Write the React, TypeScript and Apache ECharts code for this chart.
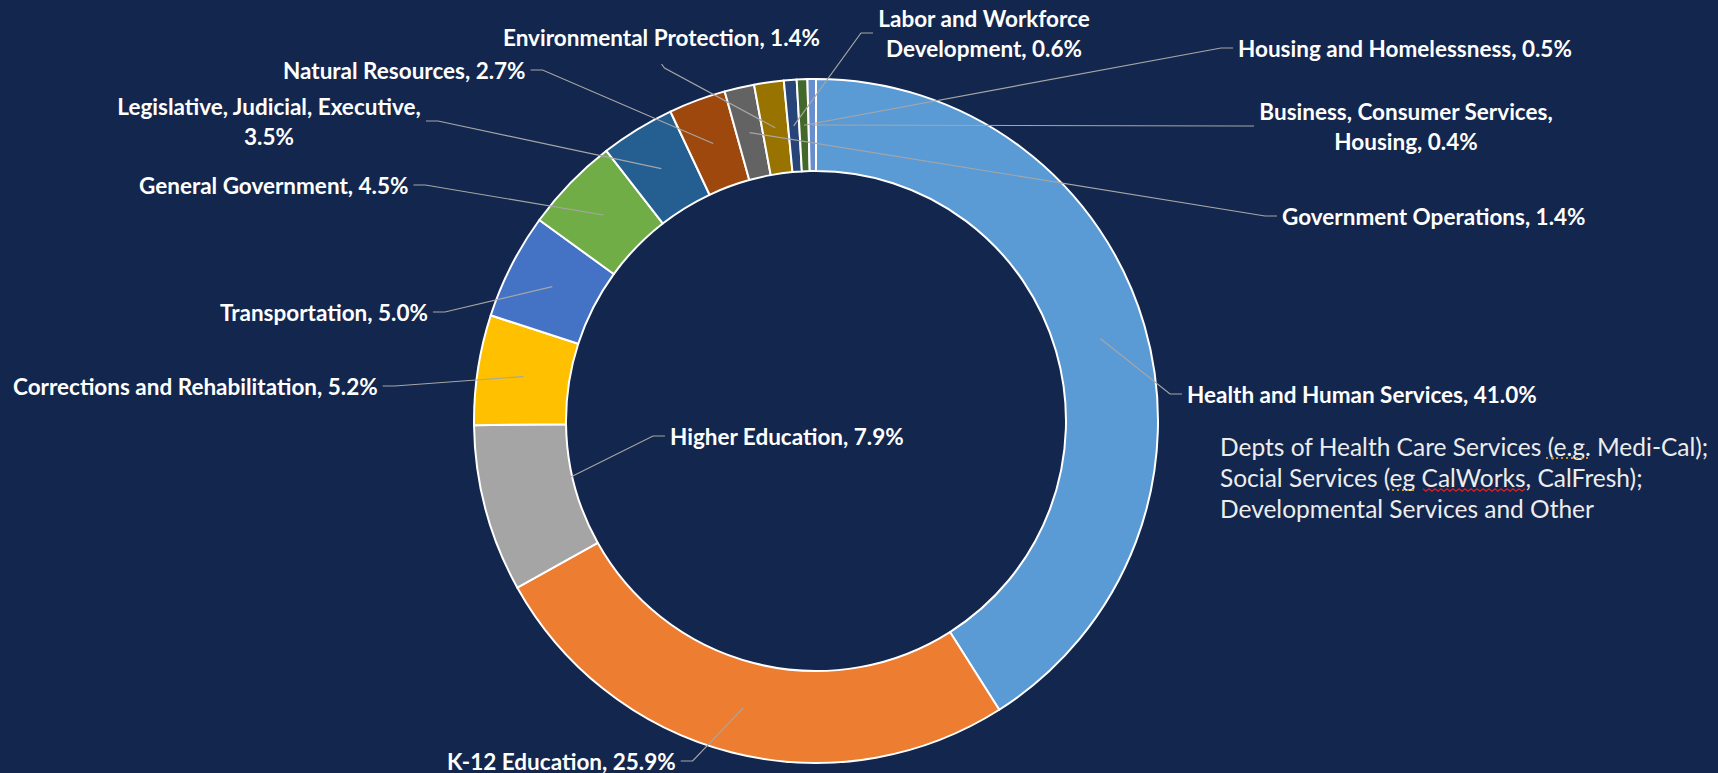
import React, { useEffect, useRef } from "react";
import * as echarts from "echarts";

// ---- Data ----
const categories = [
  "Health and Human Services",
  "K-12 Education",
  "Higher Education",
  "Corrections and Rehabilitation",
  "Transportation",
  "General Government",
  "Legislative, Judicial, Executive",
  "Natural Resources",
  "Government Operations",
  "Environmental Protection",
  "Labor and Workforce Development",
  "Housing and Homelessness",
  "Business, Consumer Services, Housing",
];
const shares = [41.0, 25.9, 7.9, 5.2, 5.0, 4.5, 3.5, 2.7, 1.4, 1.4, 0.6, 0.5, 0.4];
const sliceColors = [
  "#5B9BD5", "#ED7D31", "#A5A5A5", "#FFC000", "#4472C4", "#70AD47",
  "#255E91", "#9E480E", "#636363", "#997300", "#264478", "#43682B", "#698ED0",
];
const noteLines = [
  "Depts of Health Care Services (e.g. Medi-Cal);",
  "Social Services (eg CalWorks, CalFresh);",
  "Developmental Services and Other",
];

// where a label wraps onto a second line (text after which the break goes)
const wrapAfter: Record<string, string> = {
  "Legislative, Judicial, Executive": "Executive,",
  "Labor and Workforce Development": "Workforce",
  "Business, Consumer Services, Housing": "Services,",
};

// ---- Layout (label placement, styling) ----
// side: which side of the label the leader line attaches to
const labelPos: { x: number; y: number; align: string; side: string }[] = [
  { x: 1187, y: 394, align: "left", side: "left" },
  { x: 447, y: 761, align: "left", side: "right" },
  { x: 670, y: 436, align: "left", side: "left" },
  { x: 13, y: 386, align: "left", side: "right" },
  { x: 220, y: 312, align: "left", side: "right" },
  { x: 139, y: 185, align: "left", side: "right" },
  { x: 269, y: 121, align: "center", side: "right" },
  { x: 283, y: 70, align: "left", side: "right" },
  { x: 1282, y: 216, align: "left", side: "left" },
  { x: 503, y: 37, align: "left", side: "bottom" },
  { x: 984, y: 33, align: "center", side: "left" },
  { x: 1238, y: 48, align: "left", side: "left" },
  { x: 1406, y: 126, align: "center", side: "left" },
];

const BG = "#13264D";
const FONT = "Lato, 'Noto Sans', sans-serif";
const CENTER = [816, 421];
const RADIUS = [250, 342];

function zigzag(x0: number, x1: number, y: number) {
  const pts: number[][] = [];
  let up = true;
  for (let x = x0; x <= x1; x += 3) {
    pts.push([x, y + (up ? -1.2 : 1.2)]);
    up = !up;
  }
  return pts;
}

export default function App() {
  const ref = useRef<HTMLDivElement>(null);
  useEffect(() => {
    document.body.style.margin = "0";
    if (!ref.current) return;
    const chart = echarts.init(ref.current, undefined, { renderer: "svg" });

    const anchorOf = (seriesIndex: number, idx: number) => {
      const layout = (chart as any)
        .getModel()
        .getSeriesByIndex(seriesIndex)
        .getData()
        .getItemLayout(idx);
      const mid = (layout.startAngle + layout.endAngle) / 2;
      const rm = (layout.r + layout.r0) / 2;
      return [layout.cx + rm * Math.cos(mid), layout.cy + rm * Math.sin(mid)];
    };

    const pieData = categories.map((name, i) => ({
      name,
      value: shares[i],
      itemStyle: { color: sliceColors[i] },
    }));

    chart.setOption({
      animation: false,
      backgroundColor: BG,
      graphic: [
        {
          type: "text",
          left: 1220,
          top: 431,
          style: {
            text: noteLines.join("\n"),
            fill: "#EDEDED",
            font: `24.5px ${FONT}`,
            lineHeight: 31,
          },
        },
        {
          type: "line",
          shape: { x1: 1546, y1: 458, x2: 1588, y2: 458 },
          style: { stroke: "#D4962C", lineWidth: 2, lineDash: [2, 3] },
        },
        {
          type: "line",
          shape: { x1: 1392, y1: 490, x2: 1417, y2: 490 },
          style: { stroke: "#D4962C", lineWidth: 2, lineDash: [2, 3] },
        },
        {
          type: "polyline",
          shape: { points: zigzag(1423, 1527, 490) },
          style: { stroke: "#E02020", lineWidth: 1.2, fill: "none" },
        },
      ],
      series: [
        {
          type: "pie",
          z: 2,
          center: CENTER,
          radius: RADIUS,
          startAngle: 90,
          clockwise: true,
          itemStyle: { borderColor: "#FFFFFF", borderWidth: 2 },
          label: { show: false },
          labelLine: { show: false },
          data: pieData,
        },
        {
          // same slices, transparent: carries the labels and leader lines on top
          type: "pie",
          z: 3,
          silent: true,
          center: CENTER,
          radius: RADIUS,
          startAngle: 90,
          clockwise: true,
          avoidLabelOverlap: false,
          itemStyle: { color: "rgba(0,0,0,0)", borderWidth: 0 },
          label: {
            show: true,
            position: "outside",
            color: "#FFFFFF",
            fontFamily: FONT,
            fontWeight: "bold",
            fontSize: 22.5,
            lineHeight: 30,
            formatter: (p: any) => {
              let s = `${p.name}, ${Number(p.value).toFixed(1)}%`;
              const w = wrapAfter[p.name];
              if (w) s = s.replace(w + " ", w + "\n");
              return s;
            },
          },
          labelLine: {
            show: true,
            length: 10,
            length2: 12,
            lineStyle: { color: "#A6A6A6", width: 1.2 },
          },
          labelLayout: (params: any) => {
            const p = labelPos[params.dataIndex];
            const w = params.labelRect.width;
            const h = params.labelRect.height;
            const left = p.align === "center" ? p.x - w / 2 : p.x;
            const top = p.y - h / 2;
            let end: number[];
            let elbow: number[];
            const gap = 5;
            const tick = 12;
            if (p.side === "left") {
              end = [left - gap, p.y];
              elbow = [left - gap - tick, p.y];
            } else if (p.side === "right") {
              end = [left + w + gap, p.y];
              elbow = [left + w + gap + tick, p.y];
            } else {
              end = [left + w / 2, top + h + 12];
              elbow = [left + w / 2 + 3, top + h + 16];
            }
            let points: number[][] | undefined;
            try {
              points = [anchorOf(1, params.dataIndex), elbow, end];
            } catch (e) {
              points = undefined;
            }
            const out: any = { x: p.x, y: p.y, align: p.align, verticalAlign: "middle" };
            if (points) out.labelLinePoints = points;
            return out;
          },
          data: categories.map((name, i) => ({ name, value: shares[i] })),
        },
      ],
    });
    return () => chart.dispose();
  }, []);
  return (
    <div
      ref={ref}
      style={{ position: "absolute", left: 0, top: 0, width: 1718, height: 773 }}
    />
  );
}
